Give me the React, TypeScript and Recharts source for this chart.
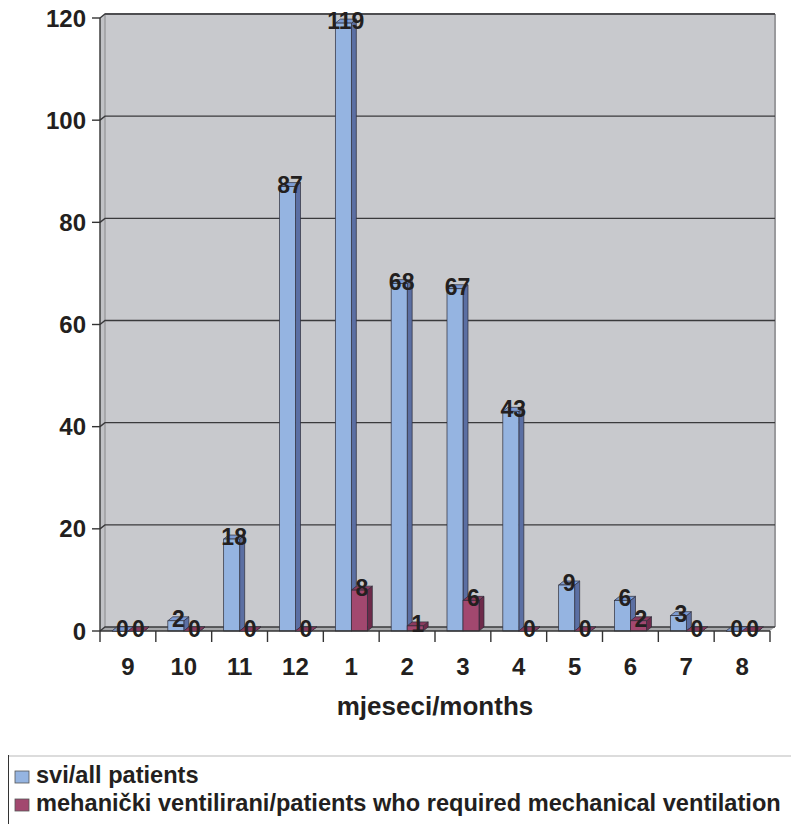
import React from 'react';
import { BarChart, Bar, XAxis, YAxis, CartesianGrid, LabelList, ReferenceArea } from 'recharts';

const months = ['9', '10', '11', '12', '1', '2', '3', '4', '5', '6', '7', '8'];
const allPatients = [0, 2, 18, 87, 119, 68, 67, 43, 9, 6, 3, 0];
const ventilated = [0, 0, 0, 0, 8, 1, 6, 0, 0, 2, 0, 0];
const yTicks = [0, 20, 40, 60, 80, 100, 120];
const seriesNames = [
  'svi/all patients',
  'mehanički ventilirani/patients who required mechanical ventilation',
];
const axisTitle = 'mjeseci/months';

const data = months.map((m, i) => ({ month: m, all: allPatients[i], vent: ventilated[i] }));

const DX = 5;
const DY = -4;
const FONT = '"Liberation Sans", Arial, Helvetica, sans-serif';
const TEXT = '#231f20';
const EDGE = '#2d2d3a';

type Col = { front: string; side: string; top: string };
const BLUE: Col = { front: '#95b4e1', side: '#5b6fa3', top: '#7d9bd3' };
const RED: Col = { front: '#a2486f', side: '#6e2a4a', top: '#8a3a5d' };

const makeBar = (c: Col) => (props: any) => {
  const { x, y, width, height } = props;
  if (x == null || y == null) return null;
  const h = Math.max(0, height || 0);
  const x2 = x + width;
  const yb = y + h;
  return (
    <g>
      <polygon
        points={`${x2},${y} ${x2 + DX},${y + DY} ${x2 + DX},${yb + DY} ${x2},${yb}`}
        fill={c.side}
        stroke={EDGE}
        strokeWidth={0.7}
      />
      <polygon
        points={`${x},${y} ${x + DX},${y + DY} ${x2 + DX},${y + DY} ${x2},${y}`}
        fill={c.top}
        stroke={EDGE}
        strokeWidth={0.7}
      />
      {h > 0 && <rect x={x} y={y} width={width} height={h} fill={c.front} stroke={EDGE} strokeWidth={0.7} />}
    </g>
  );
};

const Wall = (props: any) => {
  const { x, y, width, height } = props;
  if (x == null) return null;
  const yb = y + height;
  return (
    <g>
      <rect x={x + DX} y={y + DY} width={width} height={height} fill="#c8c9cd" />
      <polygon
        points={`${x},${y} ${x + DX},${y + DY} ${x + DX},${yb + DY} ${x},${yb}`}
        fill="#c1c2c6"
      />
      <polygon
        points={`${x},${yb} ${x + DX},${yb + DY} ${x + width + DX},${yb + DY} ${x + width},${yb}`}
        fill="#a7a8ab"
      />
      <line x1={x + DX} y1={y + DY} x2={x + DX} y2={yb + DY} stroke="#9c9c9f" strokeWidth={1.5} />
      <line x1={x + DX} y1={y + DY} x2={x + width + DX} y2={y + DY} stroke="#8d8d90" strokeWidth={2} />
      <line x1={x + width + DX} y1={y + DY} x2={x + width + DX} y2={yb + DY} stroke="#9a9a9d" strokeWidth={2} />
    </g>
  );
};

const GridLine = (p: any) => {
  const { x1, y1, x2 } = p;
  if (x1 == null) return null;
  return (
    <polyline
      key={`g-${y1}`}
      points={`${x1},${y1} ${x1 + DX},${y1 + DY} ${x2 + DX},${y1 + DY}`}
      fill="none"
      stroke="#3a3a3c"
      strokeWidth={1.4}
    />
  );
};

const XTick = (props: any) => {
  const { x, y, payload, index, visibleTicksCount } = props;
  const half = payload && payload.offset ? payload.offset : 27.9;
  const last = index === (visibleTicksCount || months.length) - 1;
  return (
    <g>
      <line x1={x - half} y1={y} x2={x - half} y2={y + 11} stroke="#333" strokeWidth={1.4} />
      {last && <line x1={x + half} y1={y} x2={x + half} y2={y + 11} stroke="#333" strokeWidth={1.4} />}
      <text
        x={x}
        y={y + 44}
        textAnchor="middle"
        fontFamily={FONT}
        fontWeight="bold"
        fontSize={24}
        fill={TEXT}
      >
        {payload.value}
      </text>
    </g>
  );
};

const makeLabel = (c: Col) => (p: any) => {
  const vb = p.viewBox || {};
  const x = p.x != null ? p.x : vb.x;
  const y = p.y != null ? p.y : vb.y;
  const w = p.width != null ? p.width : vb.width;
  if (x == null || y == null) return null;
  const zero = Number(p.value) === 0;
  return (
    <g>
      {zero && (
        <polygon
          points={`${x},${y} ${x + DX},${y + DY} ${x + w + DX},${y + DY} ${x + w},${y}`}
          fill={c.top}
          stroke={EDGE}
          strokeWidth={0.5}
        />
      )}
      <text
        x={x + w / 2 + DX / 2}
        y={y + 6}
        textAnchor="middle"
        fontFamily={FONT}
        fontWeight="bold"
        fontSize={23}
        fill={TEXT}
      >
        {p.value}
      </text>
    </g>
  );
};

export default function App() {
  return (
    <div style={{ position: 'relative', width: 791, height: 816, fontFamily: FONT }}>
      <BarChart
        width={791}
        height={745}
        data={data}
        margin={{ top: 10, right: 29, bottom: 22, left: 0 }}
        barSize={16}
        barGap={0}
        style={{ overflow: 'visible' }}
      >
        <ReferenceArea y1={0} y2={120} shape={Wall} zIndex={-200} ifOverflow="visible" />
        <CartesianGrid vertical={false} horizontal={GridLine} stroke="#3a3a3c" />
        <XAxis
          dataKey="month"
          height={100}
          tickSize={0}
          tickMargin={0}
          tickLine={false}
          interval={0}
          tick={XTick}
          axisLine={{ stroke: '#333', strokeWidth: 1.4 }}
          label={{
            value: axisTitle,
            position: 'insideBottom',
            offset: 16,
            fill: TEXT,
            fontSize: 26,
            fontWeight: 'bold',
            fontFamily: FONT,
          }}
        />
        <YAxis
          width={92}
          domain={[0, 120]}
          ticks={yTicks}
          interval={0}
          tickSize={8}
          tickMargin={6}
          tickLine={{ stroke: '#333', strokeWidth: 1.4 }}
          axisLine={{ stroke: '#333', strokeWidth: 1.4 }}
          tick={{ fill: TEXT, fontSize: 24, fontWeight: 'bold', fontFamily: FONT }}
        />
        <Bar dataKey="all" name={seriesNames[0]} fill={BLUE.front} shape={makeBar(BLUE)} isAnimationActive={false}>
          <LabelList dataKey="all" content={makeLabel(BLUE)} />
        </Bar>
        <Bar dataKey="vent" name={seriesNames[1]} fill={RED.front} shape={makeBar(RED)} isAnimationActive={false}>
          <LabelList dataKey="vent" content={makeLabel(RED)} />
        </Bar>
      </BarChart>
      <svg
        width={791}
        height={69}
        style={{ position: 'absolute', left: 0, top: 747, display: 'block' }}
      >
        <line x1={0} y1={1} x2={791} y2={1} stroke="#dcdcdc" strokeWidth={2} />
        <line x1={0} y1={0} x2={0} y2={69} stroke="#333" strokeWidth={2} />
        {[BLUE, RED].map((c, i) => (
          <g key={i}>
            <rect x={7} y={16 + i * 28} width={14} height={12} fill={c.front} stroke="#555" strokeWidth={0.8} />
            <text x={28} y={28 + i * 28} fontFamily={FONT} fontWeight="bold" fontSize={23.6} fill={TEXT}>
              {seriesNames[i]}
            </text>
          </g>
        ))}
      </svg>
    </div>
  );
}
